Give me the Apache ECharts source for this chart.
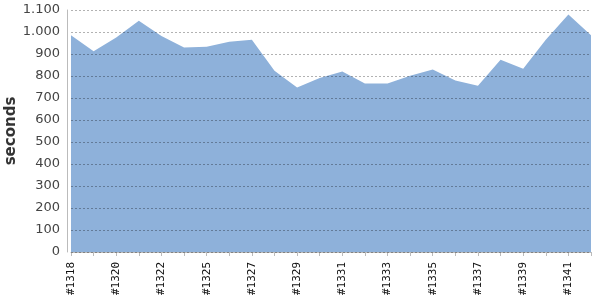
<!DOCTYPE html>
<html>
<head>
<meta charset="utf-8">
<script src="https://cdn.jsdelivr.net/npm/echarts@6/dist/echarts.min.js"></script>
<style>
  html, body { margin: 0; padding: 0; background: #fff; }
  #chart { width: 600px; height: 300px; }
</style>
</head>
<body>
<div id="chart"></div>
<script>
// build numbers (one id missing between 1322 and 1325)
let builds = ['#1318', '#1319', '#1320', '#1321', '#1322', '#1324', '#1325', '#1326',
	'#1327', '#1328', '#1329', '#1330', '#1331', '#1332', '#1333', '#1334',
	'#1335', '#1336', '#1337', '#1338', '#1339', '#1340', '#1341', '#1342'];
let durations = [985, 912, 975, 1051, 982, 930, 933, 956, 965, 824, 748, 791,
	820, 766, 766, 801, 829, 779, 756, 874, 833, 965, 1079, 985];

let chart = echarts.init(document.getElementById('chart'));

chart.setOption({
	animation: false,
	grid: {
		left: 71,
		right: 9,
		top: 10,
		bottom: 48,
		outerBoundsMode: 'none',
		containLabel: false,
	},
	xAxis: {
		type: 'category',
		data: builds,
		boundaryGap: false,
		offset: 4,
		axisLine: {
			lineStyle: { color: '#bbb' }
		},
		axisTick: {
			interval: 0,
			length: 4,
			lineStyle: { color: '#bbb' }
		},
		axisLabel: {
			interval: 1,
			rotate: 90,
			margin: 6,
			color: '#111',
			fontFamily: 'DejaVu Sans Mono',
			fontSize: 11,
		},
		splitLine: { show: false },
	},
	yAxis: {
		type: 'value',
		min: 0,
		max: 1100,
		interval: 100,
		offset: 4,
		z: 5,
		name: 'seconds',
		nameLocation: 'middle',
		nameGap: 48,
		nameMoveOverlap: false,
		nameTextStyle: {
			color: '#333',
			fontFamily: 'DejaVu Sans',
			fontWeight: 'bold',
			fontSize: 15,
		},
		axisLine: {
			show: true,
			lineStyle: { color: '#bbb' }
		},
		axisTick: { show: false },
		axisLabel: {
			color: '#444',
			fontFamily: 'DejaVu Sans',
			fontSize: 13,
			margin: 7,
			formatter: (v) => String(v).replace(/\B(?=(\d{3})+(?!\d))/g, '.'),
		},
		splitLine: {
			lineStyle: {
				color: 'rgba(0,0,0,0.3)',
				type: [2, 2],
				width: 1,
			}
		},
	},
	series: [
		{
			name: 'duration',
			type: 'line',
			data: durations,
			symbol: 'none',
			lineStyle: { width: 0 },
			areaStyle: {
				color: '#8eb1da',
				opacity: 1,
			},
		}
	]
});
</script>
</body>
</html>
